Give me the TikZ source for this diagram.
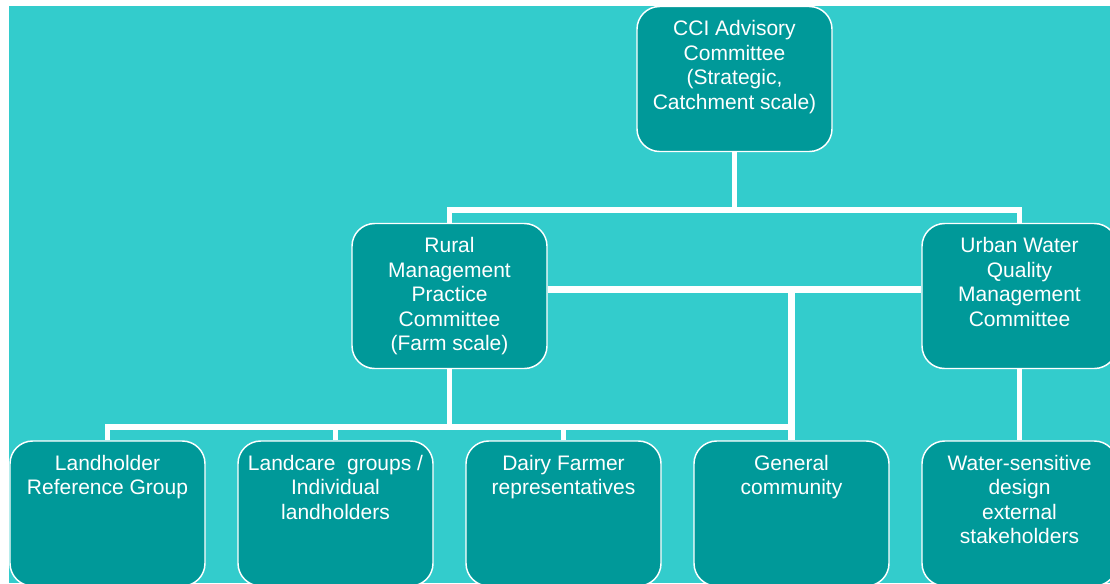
\documentclass[tikz,border=0pt]{standalone}
\usepackage{fontspec}
\setmainfont{Liberation Sans}
\definecolor{bgTeal}{HTML}{33CCCC}
\definecolor{boxTeal}{HTML}{009999}

\begin{document}
\begin{tikzpicture}[
    x=0.75pt, y=-0.75pt,
    unit/.style={draw=white, line width=1.1pt, fill=boxTeal, rounded corners=17pt, minimum width=146.25pt, minimum height=108.75pt, inner sep=0pt},
    unitText/.style={anchor=north, align=center, inner sep=0pt, text=white, font=\fontsize{15.75}{18.4}\selectfont},
    link/.style={draw=white, line width=4.4pt}
  ]
  \useasboundingbox (0,0) rectangle (1110,583);
  \clip (0,0) rectangle (1110,583);
  \fill[bgTeal] (9,6) rectangle (1110,583);

  % top level
  \node[unit] (cci) at (734.5,79) {};
  \node[unitText] (cci-txt) at ([yshift=-10.8pt]cci.north) {CCI Advisory\\Committee\\(Strategic,\\Catchment scale)};

  % committees
  \node[unit] (rural) at (449.5,296) {};
  \node[unitText] (rural-txt) at ([yshift=-10.8pt]rural.north) {Rural\\Management\\Practice\\Committee\\(Farm scale)};
  \node[unit] (urban) at (1019.5,296) {};
  \node[unitText] (urban-txt) at ([yshift=-10.8pt]urban.north) {Urban Water\\Quality\\Management\\Committee};

  % stakeholder groups
  \node[unit] (landholder) at (107.5,513.5) {};
  \node[unitText] (landholder-txt) at ([yshift=-10.8pt]landholder.north) {Landholder\\Reference Group};
  \node[unit] (landcare) at (335.5,513.5) {};
  \node[unitText] (landcare-txt) at ([yshift=-10.8pt]landcare.north) {Landcare\ \ groups /\\Individual\\landholders};
  \node[unit] (dairy) at (563.5,513.5) {};
  \node[unitText] (dairy-txt) at ([yshift=-10.8pt]dairy.north) {Dairy Farmer\\representatives};
  \node[unit] (community) at (791.5,513.5) {};
  \node[unitText] (community-txt) at ([yshift=-10.8pt]community.north) {General\\community};
  \node[unit] (wsd) at (1019.5,513.5) {};
  \node[unitText] (wsd-txt) at ([yshift=-10.8pt]wsd.north) {Water-sensitive\\design\\external\\stakeholders};

  % connectors
  \path (cci.south) ++(0,57.5) coordinate (topBus);
  \draw[link] (cci.south) -- (topBus);
  \draw[link] (rural.north) |- (topBus) -| (urban.north);

  \coordinate (midBus) at ([yshift=5pt]rural.east);
  \draw[link, line width=5.25pt] (midBus) -- (urban.west |- midBus);
  \draw[link, line width=5.25pt] (community.north) -- (community.north |- midBus);

  \path (rural.south) ++(0,58) coordinate (lowBus);
  \draw[link] (rural.south) -- (lowBus);
  \draw[link] (landholder.north) |- ([xshift=-2pt]community.north |- lowBus);
  \draw[link] (landcare.north) -- (landcare.north |- lowBus);
  \draw[link] (dairy.north) -- (dairy.north |- lowBus);

  \draw[link] (urban.south) -- (wsd.north);

\end{tikzpicture}
\end{document}
